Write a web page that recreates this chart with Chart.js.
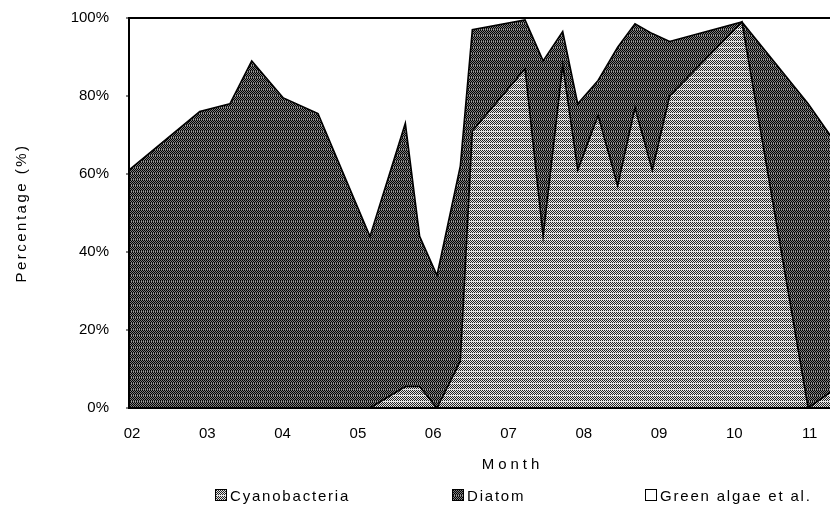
<!DOCTYPE html>
<html>
<head>
<meta charset="utf-8">
<script src="https://cdn.jsdelivr.net/npm/chart.js@4.4.1/dist/chart.umd.min.js"></script>
<style>
html,body{margin:0;padding:0;background:#fff;}
#wrap{position:relative;width:830px;height:516px;overflow:hidden;}
#c{display:block;}
#legend{position:absolute;left:0;top:485px;width:830px;height:22px;font-family:'Liberation Sans',Arial,Helvetica,sans-serif;font-size:15px;letter-spacing:1.8px;color:#000;}
.item{position:absolute;top:0;height:20px;display:flex;align-items:center;white-space:nowrap;}
.box{width:12px;height:12px;border:1px solid #000;box-sizing:border-box;margin-right:3px;}
</style>
</head>
<body>
<div id="wrap">
<canvas id="c" width="830" height="516"></canvas>
<div id="legend"></div>
</div>
<script>
// ---- data ----
const monthTicks  = [2, 3, 4, 5, 6, 7, 8, 9, 10, 11];
const monthLabels = ['02','03','04','05','06','07','08','09','10','11'];
const percentTicks = [0, 20, 40, 60, 80, 100];
const seriesNames = ['Cyanobacteria', 'Diatom', 'Green algae et al.'];

// sampling dates (decimal month)
const sampleMonths = [1.96, 2.90, 3.30, 3.59, 4.01, 4.47, 5.16, 5.63, 5.82, 6.05, 6.36, 6.52,
                      7.22, 7.46, 7.72, 7.92, 8.19, 8.45, 8.68, 8.91, 9.14, 10.10, 10.98, 11.27];
// percentage of each group
const cyanobacteria = [0, 0, 0, 0, 0, 0, 0, 5.5, 5.5, 0, 12, 71,
                       87, 44, 88, 61, 75, 57, 77, 61, 80, 99, 0, 4];
const diatom        = [61, 76, 78, 89, 79.5, 75.5, 44, 67.5, 38.5, 34, 50, 26,
                       12.5, 45, 8.5, 17, 9, 35.5, 21.5, 35, 14, 0, 78, 66];
const greenAlgae    = [39, 24, 22, 11, 20.5, 24.5, 56, 27, 56, 66, 38, 3,
                       0.5, 11, 3.5, 22, 16, 7.5, 1.5, 4, 6, 1, 22, 30];

// ---- halftone-like patterns ----
function makeTile(kind){
  const w = 6, h = 6;
  const cv = document.createElement('canvas'); cv.width = w; cv.height = h;
  const cx = cv.getContext('2d');
  const img = cx.createImageData(w, h);
  for (let y = 0; y < h; y++) {
    for (let x = 0; x < w; x++) {
      let v;
      if (kind === 'cyano') {
        if (y === 5) v = 225; else v = ((x + y) % 2 === 0) ? 35 : 230;
      } else {
        if (y === 5) v = ((x % 2) === 0) ? 30 : 160; else v = ((x + y) % 2 === 0) ? 0 : 125;
      }
      const i = (y * w + x) * 4;
      img.data[i] = img.data[i+1] = img.data[i+2] = v; img.data[i+3] = 255;
    }
  }
  cx.putImageData(img, 0, 0);
  return cv;
}
const cyanoTile = makeTile('cyano');
const diatomTile = makeTile('diatom');
const ctx = document.getElementById('c').getContext('2d');
const cyanoPattern = ctx.createPattern(cyanoTile, 'repeat');
const diatomPattern = ctx.createPattern(diatomTile, 'repeat');

const toXY = arr => arr.map((v, i) => ({x: sampleMonths[i], y: v}));

Chart.defaults.font.family = "'Liberation Sans', Arial, Helvetica, sans-serif";
Chart.defaults.font.size = 15;
Chart.defaults.color = '#000';

const framePlugin = {
  id: 'frame',
  beforeDraw(chart) {
    const sx = chart.scales.x, sy = chart.scales.y;
    if (sx && !sx._patched) {
      const orig = sx.drawTitle.bind(sx);
      sx.drawTitle = function(){ const c = this.ctx; c.save(); c.letterSpacing = '4px'; c.translate(33, 0); orig(); c.restore(); };
      sx._patched = true;
    }
    if (sy && !sy._patched) {
      const orig = sy.drawTitle.bind(sy);
      sy.drawTitle = function(){ const c = this.ctx; c.save(); c.letterSpacing = '2.5px'; orig(); c.restore(); };
      sy._patched = true;
    }
  },
  afterDatasetsDraw(chart) {
    const a = chart.chartArea, c = chart.ctx;
    c.save();
    c.strokeStyle = '#000';
    c.lineWidth = 2;
    c.beginPath();
    c.moveTo(a.right + 2, a.top); c.lineTo(a.left, a.top); c.lineTo(a.left, a.bottom); c.lineTo(a.right + 2, a.bottom);
    c.stroke();
    c.lineWidth = 1;
    percentTicks.forEach(t => {
      const y = chart.scales.y.getPixelForValue(t);
      c.beginPath(); c.moveTo(a.left - 3, y); c.lineTo(a.left, y); c.stroke();
    });
    c.restore();
  }
};

new Chart(ctx, {
  type: 'line',
  data: {
    datasets: [
      { label: seriesNames[0], data: toXY(cyanobacteria), backgroundColor: cyanoPattern, fill: 'origin' },
      { label: seriesNames[1], data: toXY(diatom), backgroundColor: diatomPattern, fill: '-1' },
      { label: seriesNames[2], data: toXY(greenAlgae), backgroundColor: '#ffffff', fill: '-1' }
    ]
  },
  options: {
    responsive: false,
    animation: false,
    events: [],
    layout: { padding: { top: 18, right: 0, bottom: 38, left: 0 } },
    elements: {
      line: { borderColor: '#000', borderWidth: 1.6, tension: 0 },
      point: { radius: 0 }
    },
    plugins: { legend: { display: false }, tooltip: { enabled: false } },
    scales: {
      x: {
        type: 'linear',
        min: sampleMonths[0],
        max: sampleMonths[sampleMonths.length - 1],
        grid: { display: false },
        border: { display: false },
        afterBuildTicks: s => { s.ticks = monthTicks.map(v => ({ value: v })); },
        afterFit: s => { s.height = 70; },
        ticks: {
          padding: 9,
          autoSkip: false,
          maxRotation: 0,
          callback: v => monthLabels[monthTicks.indexOf(v)]
        },
        title: { display: true, text: 'Month', padding: { top: 0, bottom: 4 }, font: { size: 15 } }
      },
      y: {
        stacked: true,
        min: 0, max: 100,
        grid: { display: false },
        border: { display: false },
        afterBuildTicks: s => { s.ticks = percentTicks.map(v => ({ value: v })); },
        afterFit: s => { s.width = 129; s.paddingTop = 0; },
        ticks: { padding: 12, font: { size: 15, lineHeight: 1.0 }, callback: v => v + '%' },
        title: { display: true, text: 'Percentage (%)', padding: { top: 13, bottom: 0 }, font: { size: 15 } }
      }
    }
  },
  plugins: [framePlugin]
});

// HTML legend
const legend = document.getElementById('legend');
const legendLeft = [215, 452, 645];
const boxBg = [
  'url(' + cyanoTile.toDataURL() + ')',
  'url(' + diatomTile.toDataURL() + ')',
  '#fff'
];
seriesNames.forEach((name, i) => {
  const it = document.createElement('div');
  it.className = 'item';
  it.style.left = legendLeft[i] + 'px';
  const b = document.createElement('span');
  b.className = 'box';
  b.style.background = boxBg[i];
  const t = document.createElement('span');
  t.textContent = name;
  it.appendChild(b); it.appendChild(t);
  legend.appendChild(it);
});
</script>
</body>
</html>
